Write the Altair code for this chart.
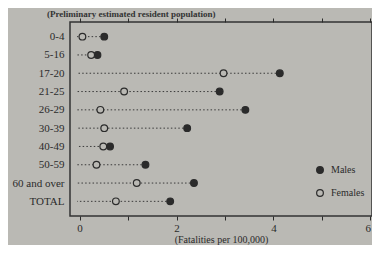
import altair as alt
import pandas as pd

ages = ["0-4", "5-16", "17-20", "21-25", "26-29", "30-39", "40-49", "50-59", "60 and over", "TOTAL"]
males = [0.51, 0.37, 4.13, 2.89, 3.42, 2.22, 0.63, 1.36, 2.36, 1.87]
females = [0.06, 0.24, 2.97, 0.92, 0.43, 0.51, 0.49, 0.35, 1.18, 0.75]
sexes = ["Males", "Females"]
x_ticks = [0, 1, 2, 3, 4, 5, 6]

df = pd.DataFrame({
    "age": ages * 2,
    "sex": ["Males"] * len(ages) + ["Females"] * len(ages),
    "rate": males + females,
})
rng = pd.DataFrame({"age": ages, "max": [max(m, f) for m, f in zip(males, females)]})

BG = "#bab9b4"
INK = "#2b2b2b"
FONT = "Liberation Serif"

xscale = alt.Scale(domain=[-0.196, 6.031], nice=False, zero=False)
yscale = alt.Scale(type="point", domain=ages, padding=0.8)

yaxis = alt.Axis(title=None, ticks=False, domain=False, grid=False,
                 labelFontSize=11, labelPadding=6, labelFont=FONT, labelColor=INK)

lines = alt.Chart(rng).mark_rule(color="#3a3a3a", strokeDash=[1.5, 2.2], strokeWidth=1).encode(
    y=alt.Y("age:N", scale=yscale, sort=ages, axis=yaxis),
    x=alt.X("max:Q", scale=xscale,
            axis=alt.Axis(orient="top", values=x_ticks, labels=False, ticks=True, tickSize=4,
                          domain=False, grid=False, title=None, tickColor=INK)),
    x2=alt.value(7),
)

points = alt.Chart(df).mark_circle(size=45, stroke=INK, strokeWidth=1.2, opacity=1).encode(
    y=alt.Y("age:N", scale=yscale, sort=ages, axis=yaxis),
    x=alt.X("rate:Q", scale=xscale,
            axis=alt.Axis(orient="bottom", values=x_ticks, tickSize=4, domain=False, grid=False,
                          labelExpr="datum.value % 2 == 0 ? datum.label : ''",
                          labelFont=FONT, labelFontSize=11, labelColor=INK, labelPadding=2,
                          labelFlush=4,
                          tickColor=INK, title="(Fatalities per 100,000)", titleFont=FONT,
                          titleFontSize=10, titleFontWeight="normal", titleColor=INK,
                          titlePadding=1)),
    fill=alt.Fill("sex:N", scale=alt.Scale(domain=sexes, range=[INK, BG]),
                  legend=alt.Legend(title=None, orient="none", legendX=245, legendY=143,
                                    symbolType="circle", symbolSize=45,
                                    symbolStrokeColor=INK, symbolStrokeWidth=1.2,
                                    labelFont=FONT, labelFontSize=10, labelColor=INK,
                                    rowPadding=11, labelOffset=6)),
)

chart = alt.layer(lines, points).resolve_axis(x="independent").properties(
    width=302, height=194, background=BG,
    padding={"left": 62, "top": 14, "right": 0, "bottom": 29},
    autosize=alt.AutoSizeParams(type="none"),
    title=alt.TitleParams("(Preliminary estimated resident population)", anchor="start",
                          frame="group", dx=-23, dy=5, offset=4,
                          fontSize=9, font=FONT, fontWeight="bold", color="#333333"),
).configure_view(stroke="#333333", strokeWidth=1.5)

chart.save("out.html", embed_options={"renderer": "svg", "actions": False})
